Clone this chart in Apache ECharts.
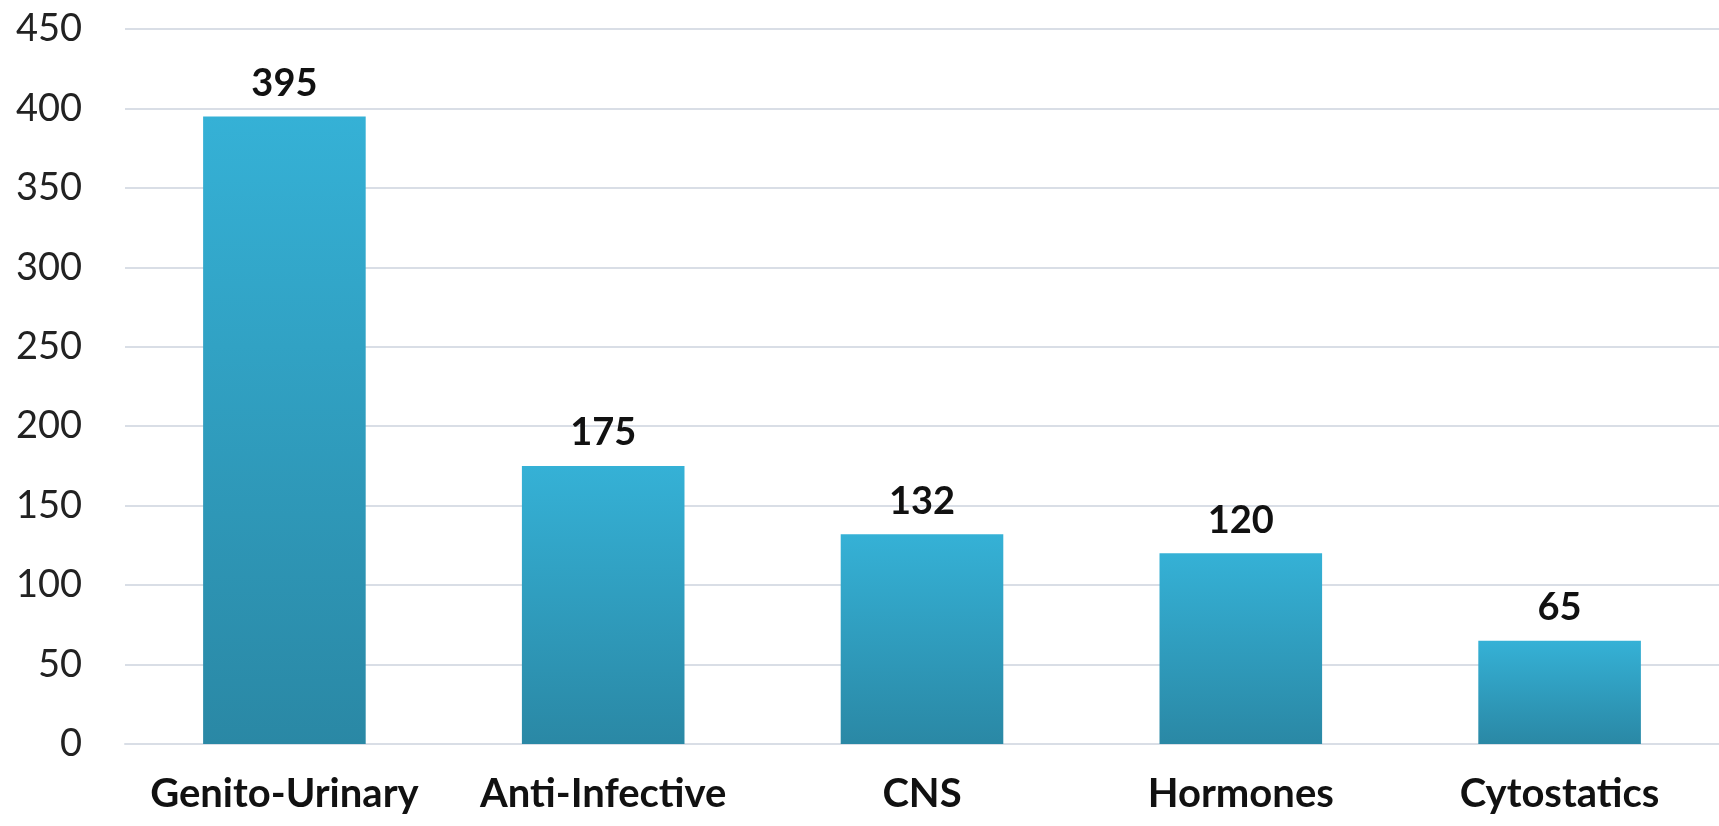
<!DOCTYPE html>
<html>
<head>
<meta charset="utf-8">
<script src="https://cdn.jsdelivr.net/npm/echarts@6/dist/echarts.min.js"></script>
<style>
html,body{margin:0;padding:0;background:#fff;}
#chart{width:1719px;height:826px;}
</style>
</head>
<body>
<div id="chart"></div>
<script>
const categories = ["Genito-Urinary", "Anti-Infective", "CNS", "Hormones", "Cytostatics"];
const values = [395, 175, 132, 120, 65];
const yTicks = [0, 50, 100, 150, 200, 250, 300, 350, 400, 450];

const chart = echarts.init(document.getElementById('chart'));
chart.setOption({
  animation: false,
  backgroundColor: '#ffffff',
  grid: { left: 125, top: 29, width: 1602, height: 715, containLabel: false },
  xAxis: {
    type: 'category',
    data: categories,
    axisLine: { show: true, lineStyle: { color: '#d9dee6', width: 2 } },
    axisTick: { show: false },
    axisLabel: {
      interval: 0,
      margin: 30,
      fontFamily: 'Lato',
      fontWeight: 'bold',
      fontSize: 40,
      color: '#111111'
    }
  },
  yAxis: {
    type: 'value',
    min: yTicks[0],
    max: yTicks[yTicks.length - 1],
    interval: 50,
    axisLine: { show: false },
    axisTick: { show: false },
    splitLine: { lineStyle: { color: '#d9dee6', width: 2 } },
    axisLabel: {
      margin: 43,
      fontFamily: 'Lato',
      fontSize: 38,
      color: '#222222'
    }
  },
  series: [{
    type: 'bar',
    data: values,
    barWidth: '51%',
    itemStyle: {
      color: new echarts.graphic.LinearGradient(0, 0, 0, 1, [
        { offset: 0, color: '#35b1d6' },
        { offset: 1, color: '#2a88a5' }
      ])
    },
    label: {
      show: true,
      position: 'top',
      distance: 14,
      fontFamily: 'Lato',
      fontWeight: 'bold',
      fontSize: 38,
      color: '#111111'
    }
  }]
});
</script>
</body>
</html>
